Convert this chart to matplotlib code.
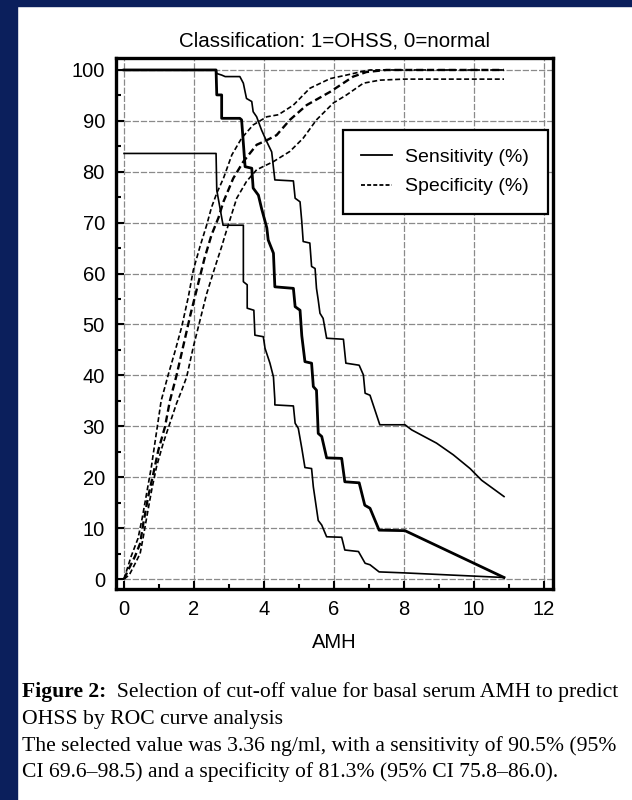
import matplotlib
matplotlib.use("Agg")
import matplotlib.pyplot as plt
from matplotlib.patches import Rectangle
from matplotlib.lines import Line2D

##### DATA #####

# Sensitivity (%) estimate and its 95% CI bounds
sens_x    = [0, 2.63, 2.65, 2.79, 2.79, 3.31, 3.36, 3.46, 3.65, 3.69, 3.84, 3.93, 4.08, 4.12,
             4.27, 4.31, 4.84, 4.89, 5.03, 5.08, 5.17, 5.36, 5.41, 5.50, 5.55, 5.65, 5.79,
             6.22, 6.31, 6.72, 6.88, 7.03, 7.29, 8.03, 10.86]
sens_y    = [100, 100, 95.1, 95.1, 90.5, 90.5, 90.2, 81.0, 80.7, 76.8, 75.4, 72.8, 69.0, 66.6,
             64.0, 57.4, 57.1, 53.5, 52.8, 47.8, 42.7, 42.4, 37.8, 37.1, 28.6, 28.0, 23.8,
             23.7, 19.1, 18.9, 14.5, 13.9, 9.6, 9.5, 0.3]
sens_lo_x = [0, 2.63, 2.65, 2.83, 3.41, 3.41, 3.52, 3.52, 3.71, 3.74, 3.98, 4.03, 4.17, 4.27,
             4.31, 4.31, 4.84, 4.89, 4.98, 5.08, 5.17, 5.36, 5.41, 5.55, 5.65, 5.79, 6.22,
             6.31, 6.70, 6.89, 7.03, 7.29, 8.03, 10.86]
sens_lo_y = [83.6, 83.6, 76.4, 69.5, 69.5, 58.4, 57.8, 53.2, 52.8, 47.9, 47.6, 45.3, 42.4, 39.7,
             35.2, 34.2, 34.0, 30.6, 29.6, 25.7, 21.9, 21.7, 18.1, 11.5, 10.6, 8.3, 8.2,
             5.7, 5.4, 3.1, 2.8, 1.4, 1.2, 0.3]
sens_hi_x = [0, 2.63, 2.65, 2.79, 2.89, 3.31, 3.41, 3.46, 3.50, 3.65, 3.69, 3.79, 3.93, 4.08,
             4.22, 4.31, 4.84, 4.89, 5.03, 5.08, 5.12, 5.31, 5.36, 5.46, 5.50, 5.55, 5.60,
             5.69, 5.79, 6.27, 6.34, 6.72, 6.84, 6.89, 7.03, 7.31, 8.03, 8.22, 8.93, 9.41,
             9.89, 10.22, 10.86]
sens_hi_y = [100, 100, 99.3, 99.0, 98.7, 98.7, 97.4, 95.7, 94.4, 93.8, 91.8, 90.8, 88.2, 85.9,
             83.9, 78.4, 78.2, 74.8, 74.1, 70.2, 66.3, 66.0, 61.4, 61.0, 57.1, 54.8, 52.2,
             51.2, 47.3, 47.1, 42.4, 42.0, 40.1, 36.5, 36.1, 30.3, 30.3, 29.3, 26.7, 24.4,
             21.7, 19.4, 16.2]

# Specificity (%) estimate and its 95% CI bounds
spec_x    = [0, 0.1, 0.31, 0.46, 0.55, 0.69, 0.84, 0.98, 1.17, 1.31, 1.5, 1.7, 1.9, 2.1,
             2.3, 2.5, 2.7, 2.84, 3.12, 3.41, 3.79, 4.08, 4.36, 4.74, 5.22, 5.89, 6.55,
             6.93, 7.5, 10.86]
spec_y    = [0, 1.5, 4.4, 7.0, 10.9, 16.2, 20.8, 25.3, 29.9, 35.0, 40.0, 46.0, 52.0, 57.5,
             63.0, 67.6, 71.0, 74.1, 78.7, 82.0, 85.3, 86.2, 87.2, 90.2, 93.1, 95.7, 98.7,
             99.6, 100, 100]
spec_hi_x = [0, 0.08, 0.2, 0.4, 0.52, 0.65, 0.78, 0.92, 1.06, 1.27, 1.46, 1.65, 1.84, 1.98,
             2.17, 2.36, 2.5, 2.65, 2.84, 3.08, 3.36, 3.69, 4.08, 4.41, 4.84, 5.31, 5.89,
             6.36, 6.74, 7.03, 10.86]
spec_hi_y = [0, 1.8, 4.4, 8.0, 12.0, 17.0, 22.0, 28.5, 35.0, 40.3, 44.8, 49.6, 55.5, 60.7,
             65.3, 69.5, 73.0, 75.8, 78.7, 83.3, 86.6, 89.2, 90.8, 91.2, 93.1, 96.4, 98.3,
             99.0, 99.6, 100, 100]
spec_lo_x = [0, 0.15, 0.27, 0.46, 0.55, 0.65, 0.79, 0.93, 1.12, 1.31, 1.5, 1.65, 1.79, 1.98,
             2.17, 2.36, 2.6, 2.79, 2.89, 3.22, 3.50, 3.79, 4.27, 4.74, 5.12, 5.50, 5.98,
             6.36, 6.84, 7.31, 8.0, 10.86]
spec_lo_y = [0, 0.8, 2.4, 5.0, 8.3, 12.2, 17.5, 22.1, 26.7, 30.6, 34.5, 37.1, 39.7, 45.6,
             50.8, 56.0, 61.3, 65.3, 67.6, 74.8, 78.1, 80.4, 82.0, 84.0, 86.6, 90.2, 93.5,
             95.1, 97.4, 98.0, 98.2, 98.2]

x_ticks = [0, 2, 4, 6, 8, 10, 12]
y_ticks = [0, 10, 20, 30, 40, 50, 60, 70, 80, 90, 100]

title_text  = "Classification: 1=OHSS, 0=normal"
xlabel_text = "AMH"
legend_labels = ["Sensitivity (%)", "Specificity (%)"]
caption_bold = "Figure 2:"
caption_lines = ["  Selection of cut-off value for basal serum AMH to predict",
                 "OHSS by ROC curve analysis",
                 "The selected value was 3.36 ng/ml, with a sensitivity of 90.5% (95%",
                 "CI 69.6\u201398.5) and a specificity of 81.3% (95% CI 75.8\u201386.0)."]


##### STYLE #####

sans  = "Liberation Sans"
serif = "Liberation Serif"
navy  = "#0b1f5c"


##### FIGURE #####

fig = plt.figure(figsize=(6.32, 8), dpi=100)
fig.patch.set_facecolor("white")
fig.patches.append(Rectangle((0, 0), 17 / 632, 1, transform=fig.transFigure,
                             color=navy, zorder=0))
fig.patches.append(Rectangle((0, 1 - 6 / 800), 1, 6 / 800, transform=fig.transFigure,
                             color=navy, zorder=0))

ax = fig.add_axes([116 / 632, 211 / 800, 437 / 632, 531 / 800])
ax.set_xlim(-0.23, 12.26)
ax.set_ylim(-1.96, 102.35)

dash = (0, (3.0, 1.6))
ax.plot(sens_x, sens_y, color="black", lw=2.0, zorder=3)
ax.plot(sens_lo_x, sens_lo_y, color="black", lw=1.2, zorder=3)
ax.plot(sens_hi_x, sens_hi_y, color="black", lw=1.2, zorder=3)
ax.plot(spec_x, spec_y, color="black", lw=1.7, ls=dash, zorder=3)
ax.plot(spec_lo_x, spec_lo_y, color="black", lw=1.2, ls=dash, zorder=3)
ax.plot(spec_hi_x, spec_hi_y, color="black", lw=1.2, ls=dash, zorder=3)

ax.set_xticks(x_ticks)
ax.set_yticks(y_ticks)
ax.set_xticks([1, 3, 5, 7, 9, 11], minor=True)
ax.set_yticks([5, 15, 25, 35, 45, 55, 65, 75, 85, 95], minor=True)
ax.tick_params(which="both", direction="in", top=False, right=False, width=1.5)
ax.tick_params(which="major", length=6, pad=8, labelsize=14.5)
ax.tick_params(which="minor", length=3.5)
for lab in ax.get_xticklabels() + ax.get_yticklabels():
    lab.set_fontfamily(sans)

ax.grid(True, which="major", color="#8a8a8a", lw=0.9, ls=(0, (5, 1.5)))
ax.set_axisbelow(True)
for s in ax.spines.values():
    s.set_linewidth(2.4)

ax.set_title(title_text, fontsize=14.8, family=sans, pad=8)
ax.set_xlabel(xlabel_text, fontsize=14.5, family=sans, labelpad=10)

handles = [Line2D([], [], color="black", lw=1.3),
           Line2D([], [], color="black", lw=1.3, ls=(0, (2.2, 1.2)))]
leg = ax.legend(handles, legend_labels, loc="upper left",
                bbox_to_anchor=(343 / 632, 1 - 130 / 800), bbox_transform=fig.transFigure,
                fancybox=False, framealpha=1, edgecolor="black",
                prop={"family": sans, "size": 14}, handlelength=1.55,
                borderpad=0.95, labelspacing=0.6, handletextpad=0.7, borderaxespad=0)
leg.get_frame().set_linewidth(1.6)
leg.set_zorder(5)

##### CAPTION #####

fig.canvas.draw()
r = fig.canvas.get_renderer()
cap_size = 15.6
y0 = 1 - 697 / 800
t = fig.text(22 / 632, y0, caption_bold, family=serif, weight="bold", fontsize=cap_size)
bb = t.get_window_extent(r)
fig.text(bb.x1 / 632, y0, caption_lines[0], family=serif, fontsize=cap_size)
for i, line in enumerate(caption_lines[1:]):
    fig.text(22 / 632, y0 - (i + 1) * 26.8 / 800, line, family=serif, fontsize=cap_size)

fig.savefig("out.png", dpi=100, facecolor=fig.get_facecolor())
